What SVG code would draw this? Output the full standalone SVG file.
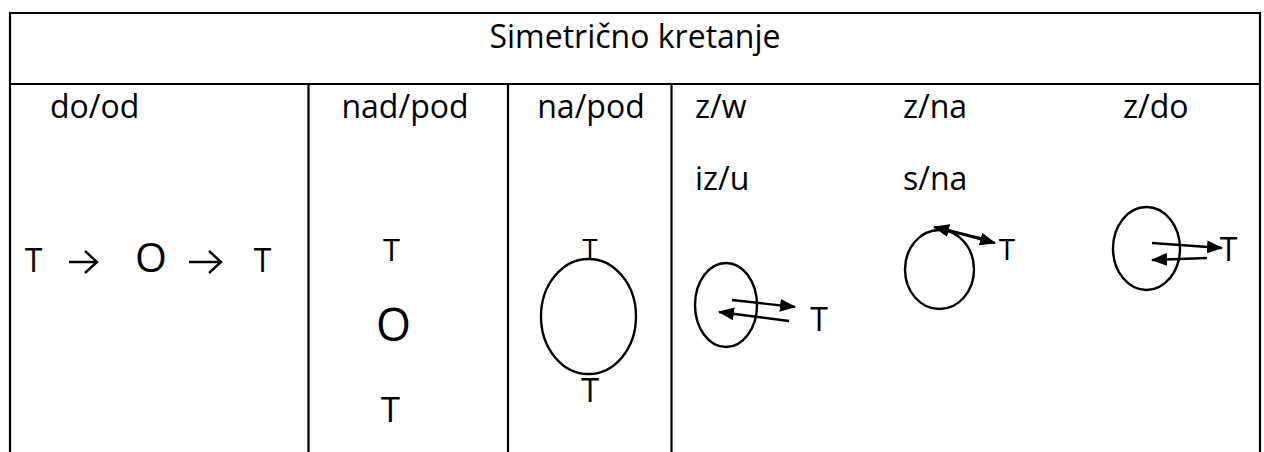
<svg xmlns="http://www.w3.org/2000/svg" width="1264" height="452" viewBox="0 0 1264 452">
<style>
  text { font-family: "Open Sans", "Noto Sans", "DejaVu Sans", sans-serif; fill: #000; }
  .lbl { font-size: 32px; }
  .grid { stroke: #000; stroke-width: 2.2; fill: none; }
  .shape { stroke: #000; stroke-width: 2.4; fill: none; }
  .conn { stroke: #000; stroke-width: 2.4; fill: none; }
</style>
<defs>
  <marker id="ah" markerUnits="userSpaceOnUse" markerWidth="16" markerHeight="13" refX="15" refY="6.5" orient="auto">
    <path d="M0,0 L16,6.5 L0,13 z" fill="#000"/>
  </marker>
</defs>
<rect width="1264" height="452" fill="#fff"/>
<g id="table">
  <path class="grid" d="M10,452 V13 H1260 V452 M10,84 H1260 M308.5,84 V452 M508,84 V452 M671.5,84 V452"/>
</g>
<g id="title"><text x="635" y="48" text-anchor="middle" class="lbl">Simetrično kretanje</text></g>
<g id="col-do-od">
  <text x="50" y="118" class="lbl">do/od</text>
  <text x="33.5" y="272" text-anchor="middle" font-size="32">T</text>
  <text x="151" y="272" text-anchor="middle" font-size="41">O</text>
  <text x="262.5" y="272" text-anchor="middle" font-size="32">T</text>
  <path class="conn" d="M69,262 H97 M85,251 L97,262 L85,273"/>
  <path class="conn" d="M189,262 H221 M209,251 L221,262 L209,273"/>
</g>
<g id="col-nad-pod">
  <text x="405" y="118" text-anchor="middle" class="lbl">nad/pod</text>
  <text x="391.5" y="261" text-anchor="middle" font-size="31">T</text>
  <text x="393.5" y="341" text-anchor="middle" font-size="45">O</text>
  <text x="390.5" y="422" text-anchor="middle" font-size="35">T</text>
</g>
<g id="col-na-pod">
  <text x="591" y="118" text-anchor="middle" class="lbl">na/pod</text>
  <ellipse class="shape" cx="588.5" cy="316.5" rx="47.5" ry="57.5"/>
  <text x="590" y="259" text-anchor="middle" font-size="28">T</text>
  <text x="590" y="402" text-anchor="middle" font-size="33">T</text>
</g>
<g id="col-z-w">
  <text x="695" y="118" class="lbl">z/w</text>
  <text x="695" y="190" class="lbl">iz/u</text>
  <ellipse class="shape" cx="726" cy="305" rx="31" ry="42"/>
  <text x="819" y="331" text-anchor="middle" font-size="32">T</text>
</g>
<g id="col-z-na">
  <text x="903" y="118" class="lbl">z/na</text>
  <text x="903" y="190" class="lbl">s/na</text>
  <ellipse class="shape" cx="939.5" cy="269.5" rx="34.5" ry="39.5"/>
  <text x="1007" y="260" text-anchor="middle" font-size="30">T</text>
</g>
<g id="col-z-do">
  <text x="1123" y="118" class="lbl">z/do</text>
  <ellipse class="shape" cx="1146.5" cy="248.5" rx="33.5" ry="41.5"/>
  <text x="1228.5" y="261" text-anchor="middle" font-size="32">T</text>
</g>
<g id="connectors">
  <line class="conn" x1="732" y1="300" x2="795" y2="307" marker-end="url(#ah)"/>
  <line class="conn" x1="789" y1="321" x2="719" y2="312" marker-end="url(#ah)"/>
  <line class="conn" x1="947" y1="230" x2="995" y2="243" marker-end="url(#ah)"/>
  <line class="conn" x1="990" y1="240.5" x2="934" y2="227" marker-end="url(#ah)"/>
  <line class="conn" x1="1152" y1="243" x2="1222" y2="248" marker-end="url(#ah)"/>
  <line class="conn" x1="1207" y1="258" x2="1152" y2="260" marker-end="url(#ah)"/>
</g>
</svg>
